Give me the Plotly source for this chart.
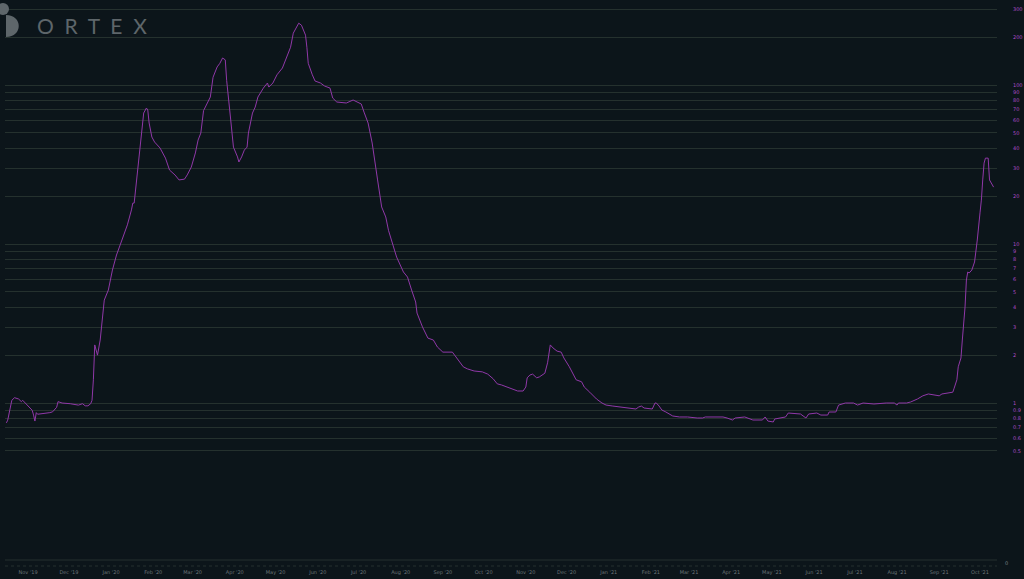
import plotly.graph_objects as go

dates = [
    "2019-10-16", "2019-10-17", "2019-10-20", "2019-10-22", "2019-10-25", "2019-10-27", "2019-10-28",
    "2019-10-30", "2019-11-02", "2019-11-04", "2019-11-05", "2019-11-06", "2019-11-07", "2019-11-08",
    "2019-11-17", "2019-11-19", "2019-11-22", "2019-11-23", "2019-11-26", "2019-11-30", "2019-12-02",
    "2019-12-08", "2019-12-11", "2019-12-13", "2019-12-15", "2019-12-17", "2019-12-18", "2019-12-19",
    "2019-12-20", "2019-12-22", "2019-12-24", "2019-12-27", "2019-12-30", "2020-01-02", "2020-01-05",
    "2020-01-09", "2020-01-13", "2020-01-16", "2020-01-17", "2020-01-18", "2020-01-20", "2020-01-22",
    "2020-01-24", "2020-01-25", "2020-01-27", "2020-01-28", "2020-01-29", "2020-01-31", "2020-02-02",
    "2020-02-06", "2020-02-10", "2020-02-13", "2020-02-17", "2020-02-20", "2020-02-24", "2020-02-26",
    "2020-02-29", "2020-03-03", "2020-03-05", "2020-03-07", "2020-03-09", "2020-03-12", "2020-03-14",
    "2020-03-16", "2020-03-19", "2020-03-21", "2020-03-23", "2020-03-25", "2020-03-26", "2020-03-29",
    "2020-03-31", "2020-04-03", "2020-04-04", "2020-04-06", "2020-04-08", "2020-04-10", "2020-04-11",
    "2020-04-14", "2020-04-16", "2020-04-18", "2020-04-22", "2020-04-25", "2020-04-26", "2020-04-29",
    "2020-05-02", "2020-05-06", "2020-05-09", "2020-05-12", "2020-05-14", "2020-05-17", "2020-05-18",
    "2020-05-20", "2020-05-22", "2020-05-23", "2020-05-24", "2020-05-25", "2020-05-28", "2020-05-30",
    "2020-06-03", "2020-06-06", "2020-06-10", "2020-06-12", "2020-06-15", "2020-06-22", "2020-06-27",
    "2020-06-30", "2020-07-03", "2020-07-05", "2020-07-08", "2020-07-11", "2020-07-13", "2020-07-15",
    "2020-07-18", "2020-07-21", "2020-07-23", "2020-07-26", "2020-07-29", "2020-08-03", "2020-08-06",
    "2020-08-09", "2020-08-12", "2020-08-13", "2020-08-17", "2020-08-21", "2020-08-25", "2020-08-28",
    "2020-09-01", "2020-09-08", "2020-09-11", "2020-09-16", "2020-09-19", "2020-09-24", "2020-09-30",
    "2020-10-04", "2020-10-08", "2020-10-11", "2020-10-14", "2020-10-20", "2020-10-26", "2020-10-30",
    "2020-11-01", "2020-11-02", "2020-11-04", "2020-11-06", "2020-11-09", "2020-11-11", "2020-11-15",
    "2020-11-17", "2020-11-19", "2020-11-21", "2020-11-22", "2020-11-24", "2020-11-27", "2020-11-29",
    "2020-12-03", "2020-12-05", "2020-12-08", "2020-12-12", "2020-12-14", "2020-12-18", "2020-12-23",
    "2020-12-27", "2020-12-30", "2021-01-04", "2021-01-11", "2021-01-18", "2021-01-21", "2021-01-23",
    "2021-01-25", "2021-01-27", "2021-02-02", "2021-02-04", "2021-02-05", "2021-02-07", "2021-02-09",
    "2021-02-12", "2021-02-17", "2021-02-22", "2021-02-28", "2021-03-07", "2021-03-11", "2021-03-13",
    "2021-03-19", "2021-03-26", "2021-03-29", "2021-04-02", "2021-04-04", "2021-04-11", "2021-04-17",
    "2021-04-24", "2021-04-26", "2021-04-28", "2021-05-02", "2021-05-03", "2021-05-11", "2021-05-13",
    "2021-05-22", "2021-05-26", "2021-05-28", "2021-06-03", "2021-06-06", "2021-06-11", "2021-06-12",
    "2021-06-17", "2021-06-19", "2021-06-24", "2021-06-30", "2021-07-03", "2021-07-07", "2021-07-15",
    "2021-07-24", "2021-07-30", "2021-08-01", "2021-08-02", "2021-08-08", "2021-08-11", "2021-08-16",
    "2021-08-20", "2021-08-24", "2021-08-31", "2021-09-01", "2021-09-03", "2021-09-06", "2021-09-11",
    "2021-09-12", "2021-09-14", "2021-09-15", "2021-09-17", "2021-09-18", "2021-09-20", "2021-09-21",
    "2021-09-22", "2021-09-23", "2021-09-25", "2021-09-27", "2021-09-28", "2021-09-29", "2021-10-01",
    "2021-10-02", "2021-10-03", "2021-10-04", "2021-10-05", "2021-10-07", "2021-10-08", "2021-10-09",
    "2021-10-11",
]

values = [
    0.75, 0.78, 1.04, 1.08, 1.06, 1.02, 1.04,
    1.0, 0.93, 0.90, 0.84, 0.77, 0.87, 0.85,
    0.87, 0.88, 0.94, 1.02, 1.0, 1.0, 0.99,
    0.97, 0.99, 0.96, 0.96, 0.99, 1.04, 1.40,
    2.32, 2.0, 2.49, 4.44, 5.14, 6.86, 8.53,
    10.6, 13.2, 16.4, 18.1, 18.1, 26.4, 39.0,
    57.7, 66.7, 71.7, 69.6, 57.7, 47.1, 43.8,
    40.2, 34.7, 29.2, 27.2, 25.3, 25.6, 27.2,
    30.5, 37.4, 45.1, 49.9, 69.0, 77.1, 84.1,
    112, 130, 137, 148, 144, 107, 60.3,
    40.7, 35.3, 32.8, 35.3, 39.0, 40.7, 49.9,
    66.7, 72.7, 84.1, 95.7, 103, 97.1, 103,
    116, 128, 148, 173, 212, 238, 245,
    238, 212, 206, 173, 137, 116, 106,
    103, 98.6, 95.7, 82.8, 78.2, 77.1, 80.5,
    78.2, 76.0, 67.6, 57.7, 43.2, 32.3, 25.3,
    17.1, 14.8, 12.2, 10.1, 8.28, 6.67, 6.20,
    5.14, 4.32, 3.68, 3.01, 2.56, 2.49, 2.25,
    2.09, 2.09, 1.92, 1.69, 1.64, 1.59, 1.57,
    1.52, 1.42, 1.32, 1.30, 1.24, 1.19, 1.19,
    1.26, 1.44, 1.50, 1.52, 1.44, 1.46, 1.54,
    1.79, 2.32, 2.22, 2.19, 2.12, 2.09, 1.92,
    1.69, 1.57, 1.40, 1.36, 1.26, 1.17, 1.06,
    1.0, 0.971, 0.957, 0.944, 0.93, 0.917, 0.944,
    0.957, 0.93, 0.917, 1.0, 1.0, 0.957, 0.904,
    0.878, 0.829, 0.817, 0.817, 0.805, 0.805, 0.817,
    0.817, 0.817, 0.805, 0.782, 0.805, 0.817, 0.782,
    0.782, 0.817, 0.770, 0.760, 0.793, 0.817, 0.865,
    0.853, 0.805, 0.853, 0.865, 0.84, 0.84, 0.878,
    0.878, 0.971, 1.0, 1.0, 0.971, 1.0, 0.986,
    1.0, 1.0, 0.971, 1.0, 1.0, 1.015, 1.06,
    1.11, 1.14, 1.12, 1.11, 1.14, 1.155, 1.17,
    1.24, 1.40, 1.69, 1.92, 2.49, 4.02, 5.94,
    6.67, 6.57, 6.86, 7.71, 8.78, 10.6, 15.7,
    18.9, 25.3, 32.3, 34.7, 34.7, 25.3, 24.5,
    22.8,
]

y_ticks = [300, 200, 100, 90, 80, 70, 60, 50, 40, 30, 20, 10, 9, 8, 7, 6, 5, 4, 3, 2, 1,
           0.9, 0.8, 0.7, 0.6, 0.5]
y_tick_labels = ["300", "200", "100", "90", "80", "70", "60", "50", "40", "30", "20", "10",
                 "9", "8", "7", "6", "5", "4", "3", "2", "1", "0.9", "0.8", "0.7", "0.6", "0.5"]

BG = "#0c151a"
GRID = "#25312e"
LINE = "#9038a8"
LOGO = "#5e666a"

W, H = 1024, 579
ML, MR, MT, MB = 5, 27, 0, 17
PW, PH = W - ML - MR, H - MT - MB


def px(x):
    return (x - ML) / PW


def py(y):
    return 1 - (y - MT) / PH


fig = go.Figure()
fig.add_trace(go.Scatter(x=dates, y=values, mode="lines",
                         line=dict(color=LINE, width=1), hoverinfo="skip"))

shapes = [
    dict(type="line", xref="paper", yref="paper", x0=0, x1=1, y0=py(560), y1=py(560),
         line=dict(color=GRID, width=1)),
    dict(type="line", xref="paper", yref="paper", x0=0, x1=1, y0=py(566), y1=py(566),
         line=dict(color=GRID, width=1, dash="dot")),
    dict(type="circle", xref="paper", yref="paper", x0=px(-3), x1=px(9), y0=py(15), y1=py(3),
         fillcolor=LOGO, line=dict(width=0), layer="above"),
    dict(type="path", xref="paper", yref="paper",
         path=(f"M {px(6)},{py(15)} C {px(23)},{py(15)} {px(23)},{py(37)} {px(6)},{py(37)} Z"),
         fillcolor=LOGO, line=dict(width=0), layer="above"),
]

annotations = [
    dict(text="O\u00a0\u00a0R\u00a0\u00a0T\u00a0\u00a0E\u00a0\u00a0X", xref="paper", yref="paper",
         x=px(35), y=py(26), xanchor="left", yanchor="middle", showarrow=False,
         font=dict(family="Lato", size=21, color=LOGO)),
    dict(text="0", xref="paper", yref="paper", x=px(1003), y=py(563), xanchor="left",
         yanchor="middle", showarrow=False, font=dict(family="DejaVu Sans", size=5, color="#7a8286")),
]

fig.update_layout(
    width=W, height=H,
    margin=dict(l=ML, r=MR, t=MT, b=MB),
    paper_bgcolor=BG, plot_bgcolor=BG,
    showlegend=False,
    shapes=shapes,
    annotations=annotations,
    xaxis=dict(
        type="date",
        range=["2019-10-15", "2021-10-13 12:00"],
        showgrid=False, zeroline=False, showline=False,
        tickmode="linear", tick0="2019-11-01", dtick="M1",
        tickformat="%b '%y",
        ticks="outside", ticklen=5, tickcolor="rgba(0,0,0,0)",
        tickfont=dict(family="DejaVu Sans", size=5, color="#6b7377"),
    ),
    yaxis=dict(
        type="log",
        side="right",
        range=[-1.0, 2.535],
        tickmode="array", tickvals=y_ticks, ticktext=y_tick_labels,
        showgrid=True, gridcolor=GRID, gridwidth=1,
        zeroline=False, showline=False,
        ticks="outside", ticklen=14, tickcolor="rgba(0,0,0,0)",
        tickfont=dict(family="DejaVu Sans", size=5, color="#b04cc8"),
    ),
)

fig.write_html("out.html",
               config={"displayModeBar": False},
               post_script="document.body.style.margin='0';document.body.style.background='#0c151a';")
